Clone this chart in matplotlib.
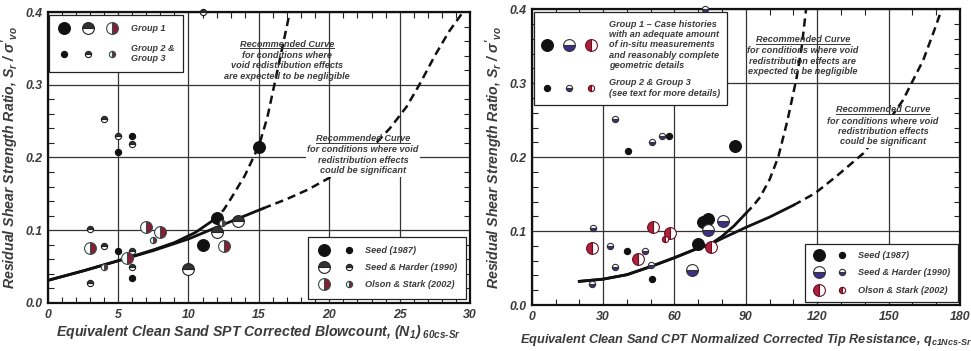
import matplotlib
matplotlib.use("Agg")
import matplotlib.pyplot as plt
from matplotlib.lines import Line2D
from matplotlib.legend_handler import HandlerTuple
from matplotlib.ticker import MultipleLocator

plt.rcParams['font.family'] = ['Liberation Sans', 'DejaVu Sans']
plt.rcParams['font.weight'] = 'bold'
plt.rcParams['font.style'] = 'italic'
plt.rcParams['mathtext.fontset'] = 'custom'
plt.rcParams['mathtext.it'] = 'Liberation Sans:bold:italic'
plt.rcParams['mathtext.rm'] = 'Liberation Sans:bold:italic'
plt.rcParams['mathtext.bf'] = 'Liberation Sans:bold:italic'

TXT = '#3a3a3a'

# ---- SPT panel data (N1)60cs-Sr vs Sr/sigma'vo ----
spt_seed_g1_x = [15, 11, 12]
spt_seed_g1_y = [0.215, 0.080, 0.117]
spt_seed_g23_x = [5, 6, 5, 6]
spt_seed_g23_y = [0.208, 0.229, 0.072, 0.034]
spt_harder_g1_x = [10, 12, 13.5]
spt_harder_g1_y = [0.047, 0.098, 0.113]
spt_harder_g23_x = [11, 4, 5, 6, 3, 4, 6, 6, 3]
spt_harder_g23_y = [0.40, 0.253, 0.229, 0.219, 0.102, 0.079, 0.072, 0.050, 0.028]
spt_olson_g1_x = [3, 5.6, 7, 8, 12.5]
spt_olson_g1_y = [0.076, 0.062, 0.105, 0.097, 0.078]
spt_olson_g23_x = [4, 7.5, 12.4]
spt_olson_g23_y = [0.050, 0.087, 0.110]

# recommended curves
spt_neg_solid_x = [0, 2.5, 5, 7.5, 9, 10.5, 11.7]
spt_neg_solid_y = [0.031, 0.044, 0.058, 0.073, 0.083, 0.097, 0.113]
spt_neg_dash_x = [11.7, 12.5, 13, 14, 15, 15.6, 16.1, 16.6, 17.2]
spt_neg_dash_y = [0.113, 0.128, 0.143, 0.175, 0.216, 0.255, 0.30, 0.345, 0.40]
spt_sig_solid_x = [0, 2.5, 5, 7.5, 10, 12.5, 15.3]
spt_sig_solid_y = [0.031, 0.044, 0.058, 0.072, 0.088, 0.108, 0.130]
spt_sig_dash_x = [15.3, 17, 18.5, 20, 21.5, 23, 24.3, 25.5, 26.4, 27.5, 28.5, 29.5]
spt_sig_dash_y = [0.130, 0.143, 0.156, 0.172, 0.19, 0.213, 0.240, 0.27, 0.30, 0.34, 0.373, 0.40]

# ---- CPT panel data qc1Ncs-Sr vs Sr/sigma'vo ----
cpt_seed_g1_x = [85.4, 70, 72, 74]
cpt_seed_g1_y = [0.215, 0.083, 0.112, 0.117]
cpt_seed_g23_x = [40.6, 57.7, 40.2, 50.4]
cpt_seed_g23_y = [0.209, 0.229, 0.073, 0.035]
cpt_harder_g1_x = [67.2, 74, 80.3]
cpt_harder_g1_y = [0.048, 0.101, 0.114]
cpt_harder_g23_x = [72.8, 35, 50.7, 54.6, 25.9, 32.9, 35, 47.6, 50.1, 25.2]
cpt_harder_g23_y = [0.40, 0.252, 0.221, 0.229, 0.104, 0.080, 0.052, 0.073, 0.054, 0.028]
cpt_olson_g1_x = [25.2, 44.8, 51.1, 58.1, 75.5]
cpt_olson_g1_y = [0.077, 0.062, 0.106, 0.098, 0.078]
cpt_olson_g23_x = [56]
cpt_olson_g23_y = [0.089]

cpt_neg_solid_x = [20, 30, 40, 50, 60, 70, 75, 80, 85, 90]
cpt_neg_solid_y = [0.032, 0.035, 0.041, 0.052, 0.064, 0.077, 0.082, 0.093, 0.107, 0.124]
cpt_neg_dash_x = [90, 93, 96, 100, 103.6, 107.5, 111.3, 113.5, 115.3]
cpt_neg_dash_y = [0.124, 0.134, 0.146, 0.17, 0.20, 0.25, 0.307, 0.35, 0.40]
cpt_sig_solid_x = [20, 30, 40, 50, 60, 70, 75, 80, 90, 100, 110]
cpt_sig_solid_y = [0.032, 0.035, 0.041, 0.052, 0.064, 0.077, 0.082, 0.090, 0.105, 0.119, 0.135]
cpt_sig_dash_x = [110, 119, 128, 139.3, 148, 156, 164.5, 169, 172.3]
cpt_sig_dash_y = [0.135, 0.151, 0.174, 0.205, 0.24, 0.277, 0.331, 0.37, 0.40]

BIG, SMALL = 8.5, 4.5
FS_NOTE = 6.6

seed_style = dict(marker='o', ls='', mfc='#111111', mec='#111111', mew=0.8)
spt_harder_style = dict(marker='o', ls='', fillstyle='top', mfc='#333333',
                        markerfacecoloralt='white', mec='#222222', mew=0.8)
spt_olson_style = dict(marker='o', ls='', fillstyle='right', mfc='#8c1c34',
                       markerfacecoloralt='white', mec='#2f4f4a', mew=0.8)
cpt_harder_style = dict(marker='o', ls='', fillstyle='bottom', mfc='#3b2f86',
                        markerfacecoloralt='white', mec='#333333', mew=0.8)
cpt_olson_style = dict(marker='o', ls='', fillstyle='left', mfc='#b0203c',
                       markerfacecoloralt='white', mec='#6a1020', mew=0.8)


def style_axes(ax, xmax, xmajor, xminor):
    ax.set_xlim(0, xmax)
    ax.set_ylim(0, 0.4)
    ax.xaxis.set_major_locator(MultipleLocator(xmajor))
    ax.xaxis.set_minor_locator(MultipleLocator(xminor))
    ax.yaxis.set_major_locator(MultipleLocator(0.1))
    ax.yaxis.set_minor_locator(MultipleLocator(0.02))
    ax.yaxis.set_major_formatter(lambda v, p: f"{v:.1f}")
    ax.xaxis.set_major_formatter(lambda v, p: f"{v:.0f}")
    ax.tick_params(which='both', direction='in', top=True, right=True,
                   colors='#222222', labelcolor=TXT, labelsize=8.8)
    ax.tick_params(which='major', length=0, pad=4)
    ax.tick_params(which='minor', length=4, width=0.8)
    ax.grid(True, which='major', color='#333333', lw=0.9)
    for s in ax.spines.values():
        s.set_linewidth(1.6)
        s.set_color('#111111')
    ax.set_ylabel("Residual Shear Strength Ratio, $S_r$ / $\\sigma'_{vo}$",
                  fontsize=10.2, fontweight='bold', color=TXT, labelpad=3)


def draw_panel(ax, seed, harder, olson, harder_style, olson_style, curves):
    for (sx, sy), (dx, dy) in curves:
        ax.plot(sx, sy, color='#111111', lw=2.0, zorder=3)
        ax.plot(dx, dy, color='#111111', lw=1.8, ls=(0, (3.3, 2.0)), zorder=3)
    for (x, y, ms), st in [(seed[0], seed_style), (seed[1], seed_style),
                           (harder[0], harder_style), (harder[1], harder_style),
                           (olson[0], olson_style), (olson[1], olson_style)]:
        ax.plot(x, y, ms=ms, zorder=5, clip_on=False, **st)


def legend_handles(harder_style, olson_style):
    big = [Line2D([], [], ms=BIG, **st) for st in (seed_style, harder_style, olson_style)]
    small = [Line2D([], [], ms=SMALL, **st) for st in (seed_style, harder_style, olson_style)]
    return big, small


def make_legend(ax, handles, labels, fs, **kw):
    leg = ax.legend(handles, labels, borderaxespad=0, fontsize=fs, fancybox=False,
                    edgecolor='#222222', framealpha=1, labelcolor=TXT, **kw)
    leg.get_frame().set_linewidth(0.9)
    return leg


notes = []


def curve_note(ax, x, y, body, white_bg=False):
    head = ax.text(x, y, "Recommended Curve", ha='center', va='top', fontsize=FS_NOTE,
                   color=TXT, zorder=6)
    kw = dict(bbox=dict(fc='white', ec='none', pad=1)) if white_bg else {}
    ax.annotate(body, (x, y), xytext=(0, -8), textcoords='offset points',
                ha='center', va='top', fontsize=FS_NOTE, color=TXT, linespacing=1.2,
                zorder=6, **kw)
    notes.append(head)


fig = plt.figure(figsize=(9.71, 3.51), dpi=100)
ax1 = fig.add_axes([0.0491, 0.1368, 0.435, 0.829])
ax2 = fig.add_axes([0.5476, 0.131, 0.4411, 0.8425])

# ---------------- SPT panel ----------------
style_axes(ax1, 30, 5, 1)
draw_panel(ax1,
           [(spt_seed_g1_x, spt_seed_g1_y, BIG), (spt_seed_g23_x, spt_seed_g23_y, SMALL)],
           [(spt_harder_g1_x, spt_harder_g1_y, BIG), (spt_harder_g23_x, spt_harder_g23_y, SMALL)],
           [(spt_olson_g1_x, spt_olson_g1_y, BIG), (spt_olson_g23_x, spt_olson_g23_y, SMALL)],
           spt_harder_style, spt_olson_style,
           [((spt_neg_solid_x, spt_neg_solid_y), (spt_neg_dash_x, spt_neg_dash_y)),
            ((spt_sig_solid_x, spt_sig_solid_y), (spt_sig_dash_x, spt_sig_dash_y))])
ax1.set_xlabel("Equivalent Clean Sand SPT Corrected Blowcount, (N$_1$)$_{\\ 60cs\\text{-}Sr}$",
               fontsize=10.2, fontweight='bold', color=TXT, labelpad=2)

big, small = legend_handles(spt_harder_style, spt_olson_style)
leg = make_legend(ax1, [tuple(big), tuple(small)], ["Group 1", "Group 2 &\nGroup 3"], 6.5,
                  handler_map={tuple: HandlerTuple(ndivide=None, pad=1.4)},
                  loc='upper left', bbox_to_anchor=(0.004, 0.99),
                  handlelength=6.5, handletextpad=1.5, labelspacing=1.2, borderpad=1.0)
ax1.add_artist(leg)
make_legend(ax1, [(big[i], small[i]) for i in range(3)],
            ["Seed (1987)", "Seed & Harder (1990)", "Olson & Stark (2002)"], 6.6,
            handler_map={tuple: HandlerTuple(ndivide=None, pad=1.2)},
            loc='lower right', bbox_to_anchor=(0.99, 0.015),
            handlelength=4.2, handletextpad=1.0, labelspacing=0.9, borderpad=1.0)

curve_note(ax1, 17.0, 0.362, "for conditions where\nvoid redistribution effects\n"
           "are expected to be negligible")
curve_note(ax1, 22.4, 0.232, "for conditions where void\nredistribution effects\n"
           "could be significant", white_bg=True)

# ---------------- CPT panel ----------------
style_axes(ax2, 180, 30, 10)
draw_panel(ax2,
           [(cpt_seed_g1_x, cpt_seed_g1_y, BIG), (cpt_seed_g23_x, cpt_seed_g23_y, SMALL)],
           [(cpt_harder_g1_x, cpt_harder_g1_y, BIG), (cpt_harder_g23_x, cpt_harder_g23_y, SMALL)],
           [(cpt_olson_g1_x, cpt_olson_g1_y, BIG), (cpt_olson_g23_x, cpt_olson_g23_y, SMALL)],
           cpt_harder_style, cpt_olson_style,
           [((cpt_neg_solid_x, cpt_neg_solid_y), (cpt_neg_dash_x, cpt_neg_dash_y)),
            ((cpt_sig_solid_x, cpt_sig_solid_y), (cpt_sig_dash_x, cpt_sig_dash_y))])
ax2.set_xlabel("Equivalent Clean Sand CPT Normalized Corrected Tip Resistance, "
               "q$_{c1Ncs\\text{-}Sr}$",
               fontsize=9.2, fontweight='bold', color=TXT, labelpad=7)

big, small = legend_handles(cpt_harder_style, cpt_olson_style)
leg = make_legend(ax2, [tuple(big), tuple(small)],
                  ["Group 1 \u2013 Case histories\nwith an adequate amount\n"
                   "of in-situ measurements\nand reasonably complete\ngeometric details",
                   "Group 2 & Group 3\n(see text for more details)"], 6.6,
                  handler_map={tuple: HandlerTuple(ndivide=None, pad=1.2)},
                  loc='upper left', bbox_to_anchor=(0.006, 0.99),
                  handlelength=6.0, handletextpad=1.3, labelspacing=0.9, borderpad=0.8)
ax2.add_artist(leg)
make_legend(ax2, [(big[i], small[i]) for i in range(3)],
            ["Seed (1987)", "Seed & Harder (1990)", "Olson & Stark (2002)"], 6.6,
            handler_map={tuple: HandlerTuple(ndivide=None, pad=1.0)},
            loc='lower right', bbox_to_anchor=(0.995, 0.01),
            handlelength=4.0, handletextpad=1.0, labelspacing=0.9, borderpad=0.8)

curve_note(ax2, 114, 0.365, "for conditions where void\nredistribution effects are\n"
           "expected to be negligible")
curve_note(ax2, 147.6, 0.27, "for conditions where void\nredistribution effects\n"
           "could be significant", white_bg=True)

# underline the "Recommended Curve" headings
fig.canvas.draw()
inv = fig.transFigure.inverted()
for t in notes:
    bb = t.get_window_extent()
    (x0, y0), (x1, _) = inv.transform([(bb.x0, bb.y0 + 0.5), (bb.x1, bb.y0)])
    fig.add_artist(Line2D([x0, x1], [y0, y0], color=TXT, lw=0.7))

fig.savefig("out.png", dpi=100)
